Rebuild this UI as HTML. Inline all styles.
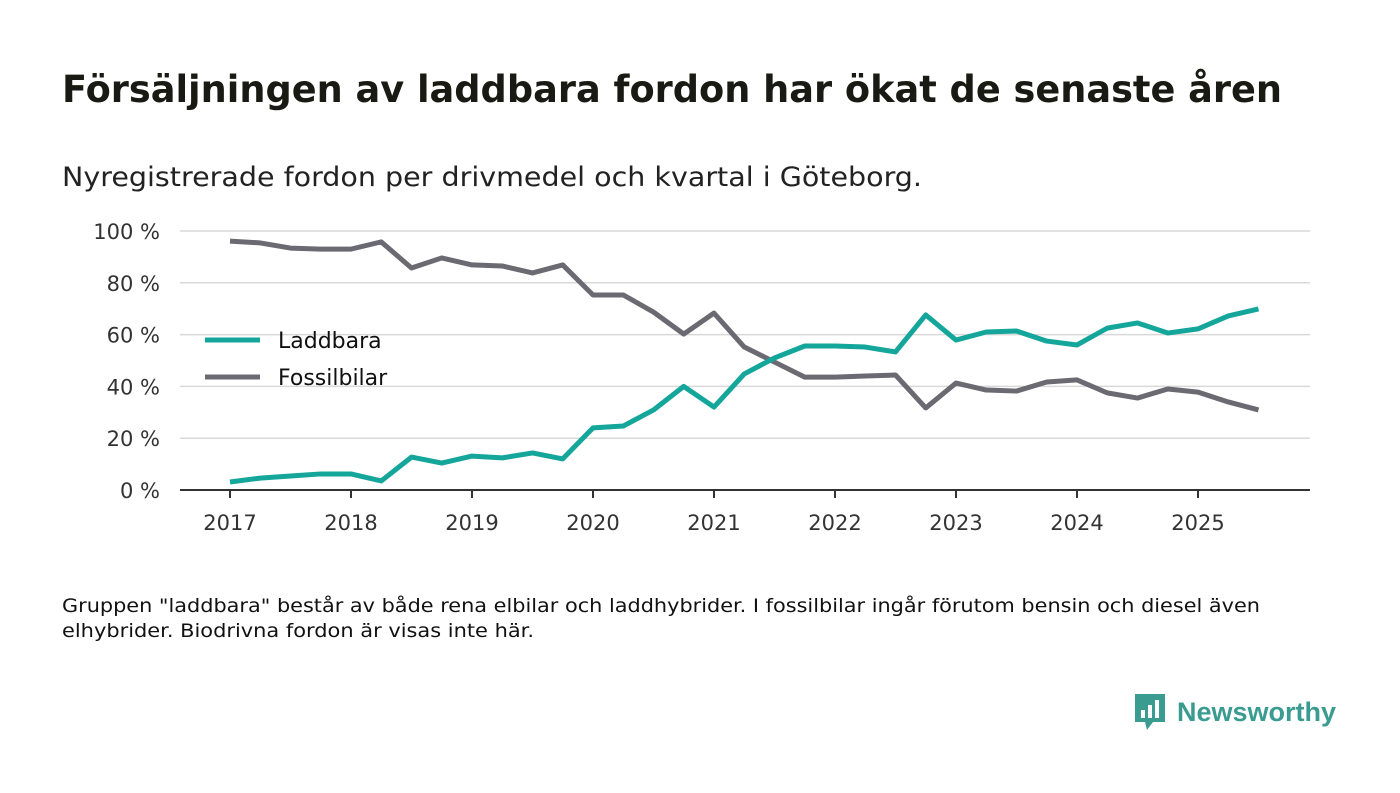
<!DOCTYPE html>
<html><head><meta charset="utf-8">
<style>
body{margin:0;width:1400px;height:793px;background:#fff;font-family:"DejaVu Sans","Liberation Sans",sans-serif;overflow:hidden;position:relative;color:#111}
.fit{position:absolute;white-space:nowrap;transform-origin:0 0;display:inline-block}
h1{margin:0;left:62px;top:68px;font-size:37px;font-weight:bold;color:#1a1a14}
.sub{left:62px;top:162px;font-size:27px;color:#222}
.note{font-size:19px;color:#111;left:62px}
.logo{position:absolute;left:1133px;top:692px;display:flex;align-items:center}
.logo span{font-family:"Liberation Sans",sans-serif;font-size:27px;font-weight:bold;color:#3a9c90;margin-left:10px}
svg{position:absolute;left:0;top:0}
</style></head><body>
<h1 class="fit" data-w="1220">Försäljningen av laddbara fordon har ökat de senaste åren</h1>
<div class="fit sub" data-w="860">Nyregistrerade fordon per drivmedel och kvartal i Göteborg.</div>
<div class="fit note" data-w="1198" style="top:595px">Gruppen "laddbara" består av både rena elbilar och laddhybrider. I fossilbilar ingår förutom bensin och diesel även</div>
<div class="fit note" data-w="472" style="top:620px">elhybrider. Biodrivna fordon är visas inte här.</div>
<svg id="chart" width="1400" height="793"></svg>
<div class="logo">
<svg width="34" height="40" style="position:static" viewBox="0 0 34 40"><path d="M2 2h30v28H20l-6 8-2-8H2z" fill="#3a9c90"/><rect x="8" y="18" width="4" height="8" fill="#fff"/><rect x="15" y="13" width="4" height="13" fill="#fff"/><rect x="22" y="8" width="4" height="18" fill="#fff"/></svg>
<span>Newsworthy</span></div>
<script>
const years=[2017,2018,2019,2020,2021,2022,2023,2024,2025];
const yTicks=[0,20,40,60,80,100];
const laddbara=[3.1,4.6,5.4,6.2,6.2,3.5,12.7,10.4,13.1,12.4,14.3,12,24,24.7,30.9,40,32,44.8,51,55.6,55.6,55.2,53.3,67.6,57.9,61,61.4,57.5,56,62.5,64.5,60.6,62.2,67.2,69.9];
const fossil=[96.1,95.4,93.4,93,93,95.8,85.7,89.6,86.9,86.5,83.8,86.9,75.3,75.3,68.7,60.2,68.3,55.2,49.4,43.6,43.6,44,44.4,31.7,41.3,38.6,38.2,41.7,42.5,37.5,35.5,39,37.8,34,30.9];
const svg=document.getElementById('chart');const NS='http://www.w3.org/2000/svg';
const x=t=>230+(t-2017)*121;const y=v=>490-v*2.59;
function el(tag,attrs,txt){const e=document.createElementNS(NS,tag);for(const k in attrs)e.setAttribute(k,attrs[k]);if(txt!=null)e.textContent=txt;svg.appendChild(e);return e;}
const FF='"DejaVu Sans","Liberation Sans",sans-serif';
yTicks.forEach(v=>{
 if(v>0){const g=el('line',{x1:180,x2:1310,y1:y(v),y2:y(v),stroke:'#d9d9d9','stroke-width':1.5});
 
 }
 const t=el('text',{x:160,y:y(v)+8,'text-anchor':'end','font-size':21,fill:'#333','font-family':FF},v+' %');
 
 
});
const ax=el('line',{x1:180,x2:1310,y1:490,y2:490,stroke:'#333','stroke-width':2});


years.forEach(yr=>{
 const tk=el('line',{x1:x(yr),x2:x(yr),y1:490,y2:498,stroke:'#333','stroke-width':2});
 
 
 const t=el('text',{x:x(yr),y:530,'text-anchor':'middle','font-size':21,fill:'#333','font-family':FF},yr);
 
 
});
function line(data,color,name){
 const d=data.map((v,i)=>(i?'L':'M')+x(2017+i/4)+' '+y(v)).join(' ');
 const p=el('path',{d:d,fill:'none',stroke:color,'stroke-width':5,'stroke-linejoin':'round'});
 
 
}
line(fossil,'#6b6a72','fossilbilar-line');
line(laddbara,'#14a69a','laddbara-line');
[['Laddbara','#14a69a',340],['Fossilbilar','#6b6a72',377]].forEach(([n,c,yy])=>{
 const l=el('line',{x1:205,x2:260,y1:yy,y2:yy,stroke:c,'stroke-width':5});
 
 
 const t=el('text',{x:278,y:yy+8,'font-size':22,fill:'#111','font-family':FF},n);
 
 
});
document.querySelectorAll('.fit').forEach(e=>{
 const w=e.getBoundingClientRect().width;const t=+e.dataset.w;
 if(w>0)e.style.transform='scaleX('+(t/w)+')';
});
</script>
</body></html>
